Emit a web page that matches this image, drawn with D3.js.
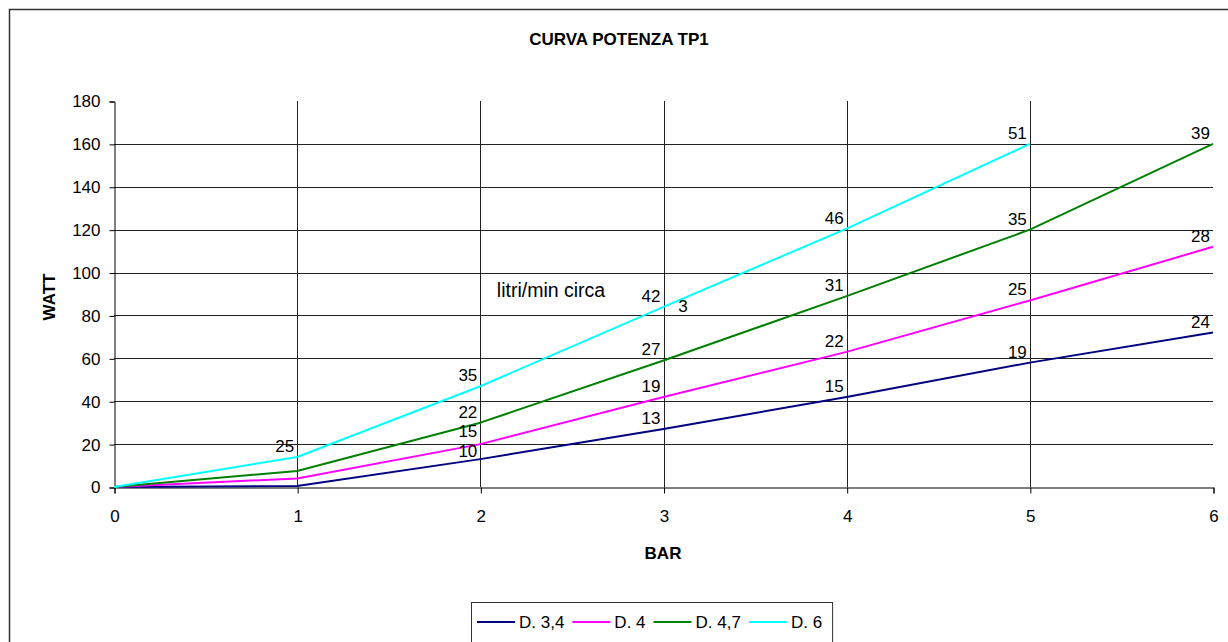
<!DOCTYPE html>
<html>
<head>
<meta charset="utf-8">
<script src="https://cdn.jsdelivr.net/npm/d3@7"></script>
<style>
  html, body { margin: 0; padding: 0; background: #fff; }
  svg { display: block; font-family: "Liberation Sans", Arial, sans-serif; }
</style>
</head>
<body>
<svg id="chart" width="1228" height="642"></svg>
<script>
// ---------- data ----------
const title = "CURVA POTENZA TP1";
const xTitle = "BAR";
const yTitle = "WATT";
const xValues = [0, 1, 2, 3, 4, 5, 6];
const xTicks = [0, 1, 2, 3, 4, 5, 6];
const yTicks = [0, 20, 40, 60, 80, 100, 120, 140, 160, 180];
const seriesNames = ["D. 3,4", "D. 4", "D. 4,7", "D. 6"];
const seriesColors = ["#000080", "#FF00FF", "#008000", "#00FFFF"];
const wattD34 = [0, 0.5, 13, 27, 42, 58, 72];
const wattD4  = [0, 4, 20, 42, 63, 87, 112];
const wattD47 = [0, 7.5, 30, 59, 89, 120, 160];
const wattD6  = [0, 14, 47, 84, 120.5, 160];
// flow labels (litri/min) at each point
const litriD34 = [null, null, 10, 13, 15, 19, 24];
const litriD4  = [null, null, 15, 19, 22, 25, 28];
const litriD47 = [null, null, 22, 27, 31, 35, 39];
const litriD6  = [null, 25, 35, 42, 46, 51];
// free annotations (bar, watt)
const annotations = [
  { text: "litri/min circa", x: 2.09, y: 88.5 },
  { text: "3", x: 3.08, y: 81.5 }
];

const series = [
  { name: seriesNames[0], color: seriesColors[0], values: wattD34, labels: litriD34 },
  { name: seriesNames[1], color: seriesColors[1], values: wattD4,  labels: litriD4 },
  { name: seriesNames[2], color: seriesColors[2], values: wattD47, labels: litriD47 },
  { name: seriesNames[3], color: seriesColors[3], values: wattD6,  labels: litriD6 }
];

// ---------- layout ----------
const svg = d3.select("#chart");
const plot = { left: 114, right: 1213, top: 101, bottom: 487 };
const x = d3.scaleLinear().domain([0, 6]).range([plot.left, plot.right]);
const y = d3.scaleLinear().domain([0, 180]).range([plot.bottom, plot.top]);
const FS = 17;

// outer chart border
svg.append("rect")
  .attr("x", 9.5).attr("y", 9.5)
  .attr("width", 1240).attr("height", 660)
  .attr("fill", "#fff").attr("stroke", "#333").attr("stroke-width", 1.5);

// title
svg.append("text")
  .attr("x", 619).attr("y", 45)
  .attr("text-anchor", "middle")
  .attr("font-size", FS).attr("font-weight", "bold")
  .text(title);

// gridlines
const grid = svg.append("g").attr("stroke", "#222").attr("stroke-width", 1);
grid.selectAll("line.h").data(yTicks.filter(t => t > 0 && t < 180)).join("line")
  .attr("x1", plot.left).attr("x2", plot.right)
  .attr("y1", d => Math.round(y(d)) + 0.5).attr("y2", d => Math.round(y(d)) + 0.5);
grid.selectAll("line.v").data(xTicks.filter(t => t > 0 && t < 6)).join("line")
  .attr("y1", y(180)).attr("y2", y(0))
  .attr("x1", d => Math.round(x(d)) + 0.5).attr("x2", d => Math.round(x(d)) + 0.5);

// axes
const yAxis = svg.append("g")
  .attr("transform", `translate(${plot.left + 0.5},0.5)`)
  .call(d3.axisLeft(y).tickValues(yTicks).tickSize(5).tickPadding(9));
const xAxis = svg.append("g")
  .attr("transform", `translate(0.5,${plot.bottom + 0.5})`)
  .call(d3.axisBottom(x).tickValues(xTicks).tickSize(6).tickPadding(16).tickFormat(d3.format("d")));
[yAxis, xAxis].forEach(a => {
  a.select(".domain").attr("stroke", "#000").attr("stroke-width", 1);
  a.selectAll(".tick line").attr("stroke", "#000");
  a.selectAll(".tick text").attr("font-size", FS).attr("fill", "#000")
    .attr("font-family", "Liberation Sans, Arial, sans-serif");
});

// axis titles
svg.append("text")
  .attr("x", 663).attr("y", 559)
  .attr("text-anchor", "middle").attr("font-size", FS).attr("font-weight", "bold")
  .text(xTitle);
svg.append("text")
  .attr("transform", "translate(55,297) rotate(-90)")
  .attr("text-anchor", "middle").attr("font-size", FS).attr("font-weight", "bold")
  .text(yTitle);

// series lines
const line = d3.line().x((d, i) => x(xValues[i])).y(d => y(d));
svg.append("g").selectAll("path").data(series).join("path")
  .attr("d", s => line(s.values))
  .attr("fill", "none")
  .attr("stroke", s => s.color)
  .attr("stroke-width", 2)
  .attr("stroke-linejoin", "round");

// data labels: above each point, then pushed apart vertically if they collide
const labelItems = [];
series.forEach(s => {
  s.labels.forEach((v, i) => {
    if (v == null) return;
    labelItems.push({ text: v, i, px: x(xValues[i]) - 3, py: y(s.values[i]) - 5 });
  });
});
const MIN_GAP = 20;
d3.groups(labelItems, d => d.i).forEach(([, items]) => {
  items.sort((a, b) => a.py - b.py);
  for (let k = 1; k < items.length; k++) {
    const gap = items[k].py - items[k - 1].py;
    if (gap < MIN_GAP) {
      const shift = (MIN_GAP - gap) / 2;
      items[k - 1].py -= shift;
      items[k].py += shift;
    }
  }
});
svg.append("g").attr("font-size", FS).attr("fill", "#000").attr("text-anchor", "end")
  .selectAll("text").data(labelItems).join("text")
  .attr("x", d => d.px).attr("y", d => d.py)
  .text(d => d.text);

// annotations
svg.append("g").selectAll("text").data(annotations).join("text")
  .attr("x", d => x(d.x)).attr("y", d => y(d.y))
  .attr("font-size", (d, i) => i === 0 ? 19.5 : FS).attr("fill", "#000")
  .text(d => d.text);

// legend
const leg = svg.append("g");
const legBox = leg.append("rect").attr("fill", "#fff").attr("stroke", "#333").attr("stroke-width", 1);
let cx = 477;
const ly = 622;
series.forEach(s => {
  leg.append("line").attr("x1", cx).attr("x2", cx + 38)
    .attr("y1", ly).attr("y2", ly).attr("stroke", s.color).attr("stroke-width", 2);
  const t = leg.append("text").attr("x", cx + 42).attr("y", ly + 5.5)
    .attr("font-size", FS).attr("fill", "#000").text(s.name);
  cx += 42 + t.node().getComputedTextLength() + 8;
});
legBox.attr("x", 471.5).attr("y", 602.5).attr("width", cx - 471 + 2).attr("height", 60);
</script>
</body>
</html>
